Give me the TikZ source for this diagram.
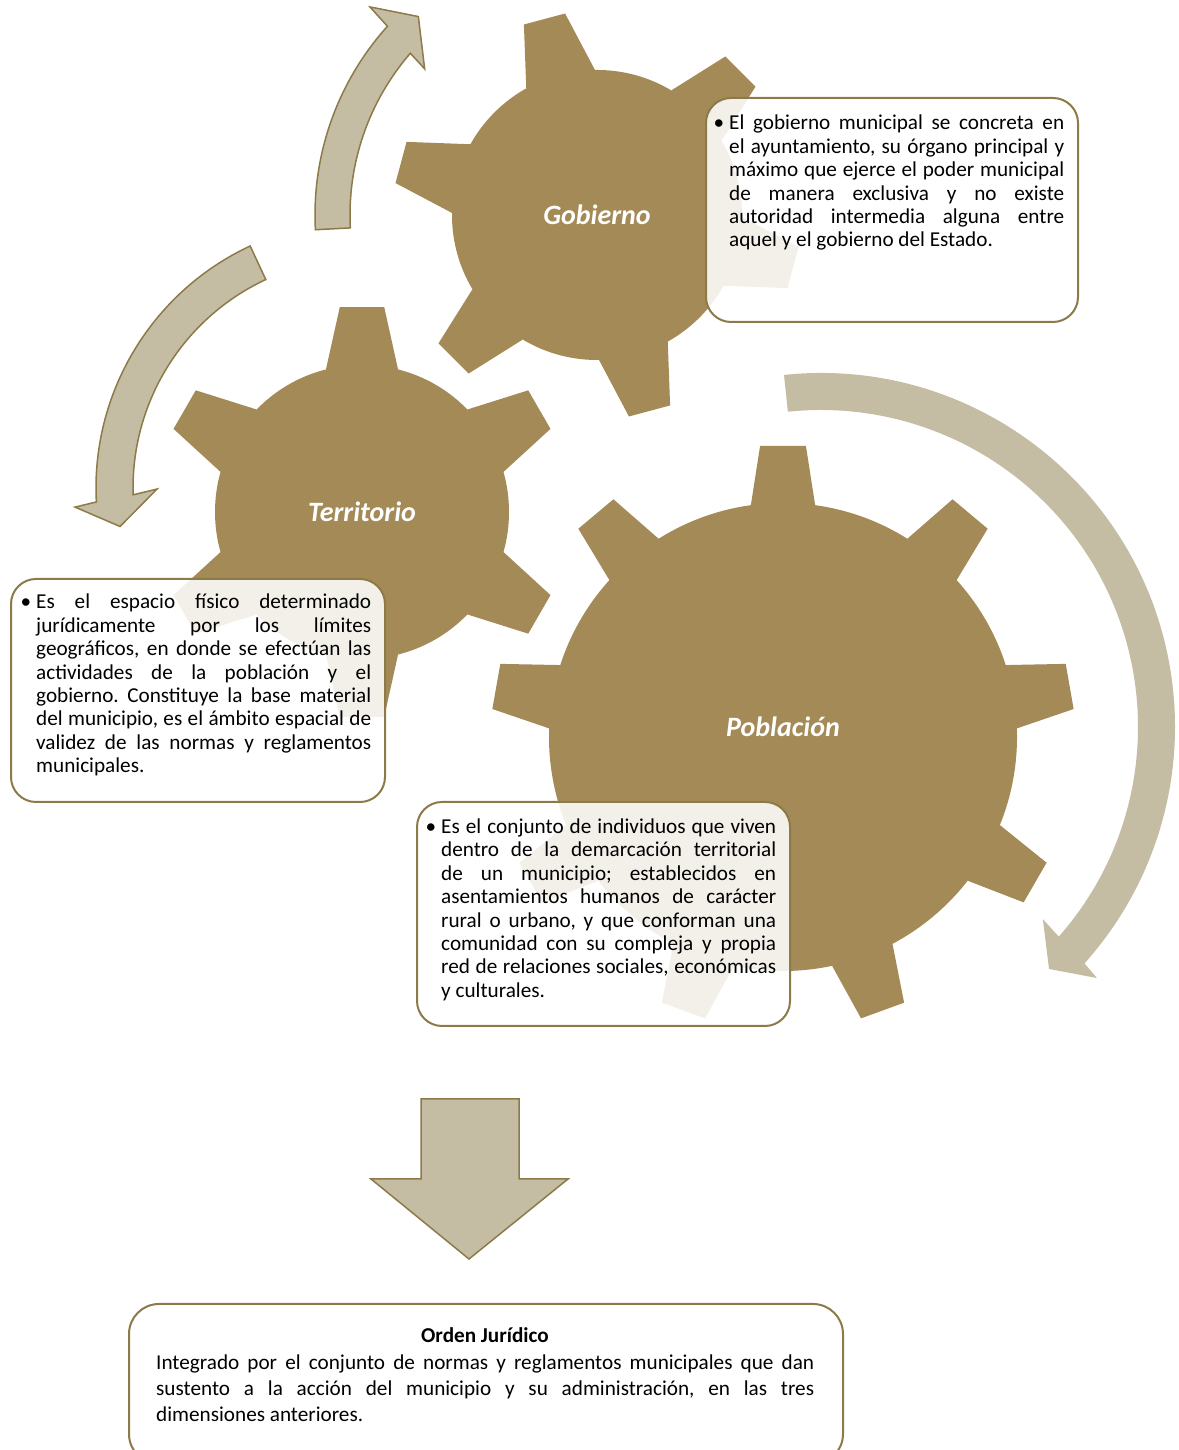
\documentclass[tikz,border=0pt]{standalone}
\usepackage{fontspec}
\setmainfont{Carlito}
\usetikzlibrary{positioning}
\definecolor{gearbrown}{RGB}{164,138,87}
\definecolor{arrowtan}{RGB}{196,189,164}
\definecolor{edgebrown}{RGB}{140,122,72}
\frenchspacing
\tikzset{
  gear/.style={fill=gearbrown},
  arrowshape/.style={fill=arrowtan, draw=edgebrown, line width=1.5pt},
  infobox/.style={draw=edgebrown, line width=2pt, rounded corners=25pt, fill=white, fill opacity=0.88, text opacity=1, anchor=north west, inner sep=0pt},
  infotext/.style={anchor=north west, inner sep=0pt, text width=335pt, align=justify, font=\fontsize{21.2}{23.45}\selectfont},
  gearlabel/.style={text=white, font=\fontsize{28}{32}\selectfont\bfseries\itshape}
}
\begin{document}
\begin{tikzpicture}[x=1pt,y=1pt]
\fill[white] (0,0) rectangle (1178,1450);
\clip (0,0) rectangle (1178,1450);
\coordinate (gob) at (597,1235);
\coordinate (ter) at (362,938);
\coordinate (pob) at (783,713);
% curved arrows
\begin{scope}[shift={(597,1235)}]
\filldraw[arrowshape] (183:282) arc[start angle=183,end angle=138,radius=282] -- (137.5:308) -- (132:267) -- (139.7:226) -- (139.1:247) arc[start angle=139.1,end angle=183,radius=247] -- cycle;
\end{scope}
\begin{scope}[shift={(363,962)}]
\filldraw[arrowshape] (115:267) arc[start angle=115,end angle=183,radius=267] -- (183.8:288.6) -- (189:246) -- (180.3:206) -- (181.7:230) arc[start angle=181.7,end angle=115,radius=230] -- cycle;
\end{scope}
\begin{scope}[shift={(821,723)}]
\fill[arrowtan] (96:354) arc[start angle=96,end angle=-41.9,radius=354] -- (-42.3:373) -- (-46.7:332.5) -- (-40.9:293.5) -- (-41.4:317) arc[start angle=-41.4,end angle=96,radius=317] -- cycle;
\end{scope}
% gears
\begin{scope}[shift={(gob)}]
\fill[gear] (0,0) circle[radius=145];
\foreach \a in {45,105,...,345}
  \fill[gear] (\a-14.2:145) -- (\a-6:204) -- (\a+6:204) -- (\a+14.2:145) -- cycle;
\end{scope}
\begin{scope}[shift={(ter)}]
\fill[gear] (0,0) circle[radius=147];
\foreach \a in {30,90,...,330}
  \fill[gear] (\a-14.2:147) -- (\a-6.2:206) -- (\a+6.2:206) -- (\a+14.2:147) -- cycle;
\end{scope}
\begin{scope}[shift={(pob)}]
\fill[gear] (0,0) circle[radius=234];
\foreach \a in {10,50,...,330}
  \fill[gear] (\a-7.9:234) -- (\a-4.5:292) -- (\a+4.5:292) -- (\a+7.9:234) -- cycle;
\end{scope}
\node[gearlabel] (goblbl) at (gob) {Gobierno};
\node[gearlabel] (terlbl) at (ter) {Territorio};
\node[gearlabel] (poblbl) at (783,723) {Población};
% text boxes
\node[infobox, minimum width=372pt, minimum height=224pt] (gobbox) at (705,1353) {};
\node[infotext] (gobtxt) at ([xshift=24pt,yshift=-17.8pt]gobbox.north west) {\noindent\llap{\textbullet\hspace{5pt}}El gobierno municipal se concreta en\linebreak el ayuntamiento, su órgano principal y\linebreak máximo que ejerce el poder municipal\linebreak de manera exclusiva y no existe\linebreak autoridad intermedia alguna entre\linebreak aquel y el gobierno del Estado.};
\node[infobox, minimum width=374pt, minimum height=223pt] (terbox) at (10,872) {};
\node[infotext] (tertxt) at ([xshift=26pt,yshift=-15.8pt]terbox.north west) {\noindent\llap{\textbullet\hspace{5pt}}Es el espacio físico determinado\linebreak jurídicamente por los límites\linebreak geográficos, en donde se efectúan las\linebreak actividades de la población y el\linebreak gobierno. Constituye la base material\linebreak del municipio, es el ámbito espacial de\linebreak validez de las normas y reglamentos\linebreak municipales.};
\node[infobox, minimum width=373pt, minimum height=224pt] (pobbox) at (416,649) {};
\node[infotext] (pobtxt) at ([xshift=25pt,yshift=-17.3pt]pobbox.north west) {\noindent\llap{\textbullet\hspace{5pt}}Es el conjunto de individuos que viven\linebreak dentro de la demarcación territorial\linebreak de un municipio; establecidos en\linebreak asentamientos humanos de carácter\linebreak rural o urbano, y que conforman una\linebreak comunidad con su compleja y propia\linebreak red de relaciones sociales, económicas\linebreak y culturales.};
% result
\filldraw[arrowshape] (421,351) -- (519,351) -- (519,271) -- (568,271) -- (469,191) -- (371,271) -- (421,271) -- cycle;
\node[infobox, rounded corners=30pt, minimum width=714pt, minimum height=160pt] (ordbox) at (128,147) {};
\node[anchor=base, font=\fontsize{21.2}{26}\selectfont\bfseries] (ordtit) at (485,107) {Orden Jurídico};
\node[infotext, text width=658pt, font=\fontsize{21.2}{26}\selectfont] (ordtxt) at (156,95.5) {\noindent Integrado por el conjunto de normas y reglamentos municipales que dan\linebreak sustento a la acción del municipio y su administración, en las tres\linebreak dimensiones anteriores.};
\end{tikzpicture}
\end{document}
